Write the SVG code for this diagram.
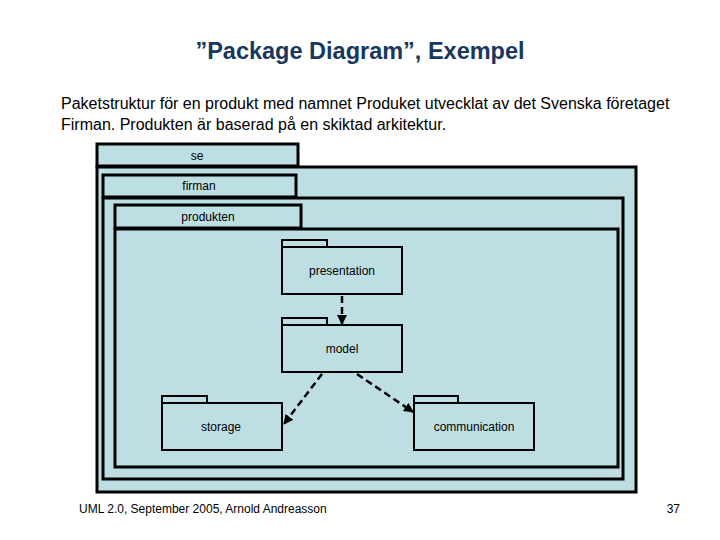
<svg xmlns="http://www.w3.org/2000/svg" width="720" height="540" viewBox="0 0 720 540">
<style>
.frame{fill:#BDDFE3;stroke:#000;stroke-width:3}
.pkg{fill:#BDDFE3;stroke:#000;stroke-width:2}
.lbl{font-family:"Liberation Sans",Arial,sans-serif;font-size:12px;text-anchor:middle;fill:#000}
.dep{stroke:#000;stroke-width:2.5;stroke-dasharray:7,4;fill:none}
.txt{font-family:"Liberation Sans",Arial,sans-serif;fill:#000}
</style>
<defs>
<marker id="ah" viewBox="0 0 10 10" refX="9" refY="5" markerWidth="4" markerHeight="4" orient="auto" markerUnits="strokeWidth">
<path d="M0,0 L10,5 L0,10 z" fill="#000"/>
</marker>
</defs>
<rect width="720" height="540" fill="#fff"/>
<text x="360" y="59" class="txt" font-size="23.5" font-weight="bold" text-anchor="middle" style="fill:#17375E">”Package Diagram”, Exempel</text>
<text x="61" y="109" class="txt" font-size="16">Paketstruktur för en produkt med namnet Produket utvecklat av det Svenska företaget</text>
<text x="61" y="130" class="txt" font-size="16">Firman. Produkten är baserad på en skiktad arkitektur.</text>

<g id="se">
<rect class="frame" x="97" y="144" width="201" height="22"/>
<rect class="frame" x="97" y="167" width="539" height="325"/>
<text class="lbl" x="197" y="160">se</text>
</g>
<g id="firman">
<rect class="frame" x="103" y="175" width="193" height="22"/>
<rect class="frame" x="103" y="198" width="520" height="281"/>
<text class="lbl" x="199" y="190">firman</text>
</g>
<g id="produkten">
<rect class="frame" x="115" y="205" width="186" height="23"/>
<rect class="frame" x="115" y="229" width="503" height="238"/>
<text class="lbl" x="208" y="221">produkten</text>
</g>

<g id="presentation">
<rect class="pkg" x="282" y="240" width="45" height="7"/>
<rect class="pkg" x="282" y="247" width="120" height="47"/>
<text class="lbl" x="342" y="275">presentation</text>
</g>
<g id="model">
<rect class="pkg" x="282" y="318" width="45" height="7"/>
<rect class="pkg" x="282" y="325" width="120" height="47"/>
<text class="lbl" x="342" y="353">model</text>
</g>
<g id="storage">
<rect class="pkg" x="162" y="396" width="45" height="7"/>
<rect class="pkg" x="162" y="403" width="120" height="47"/>
<text class="lbl" x="221" y="431">storage</text>
</g>
<g id="communication">
<rect class="pkg" x="414" y="396" width="44" height="7"/>
<rect class="pkg" x="414" y="403" width="120" height="47"/>
<text class="lbl" x="474" y="431">communication</text>
</g>

<g id="connectors">
<line class="dep" x1="342" y1="296" x2="342" y2="324" marker-end="url(#ah)"/>
<line class="dep" x1="322" y1="374" x2="284" y2="424" marker-end="url(#ah)"/>
<line class="dep" x1="357" y1="374" x2="413" y2="412" marker-end="url(#ah)"/>
</g>

<text x="79" y="513" class="txt" font-size="12">UML 2.0, September 2005, Arnold Andreasson</text>
<text x="680" y="513" class="txt" font-size="12" text-anchor="end">37</text>
</svg>
